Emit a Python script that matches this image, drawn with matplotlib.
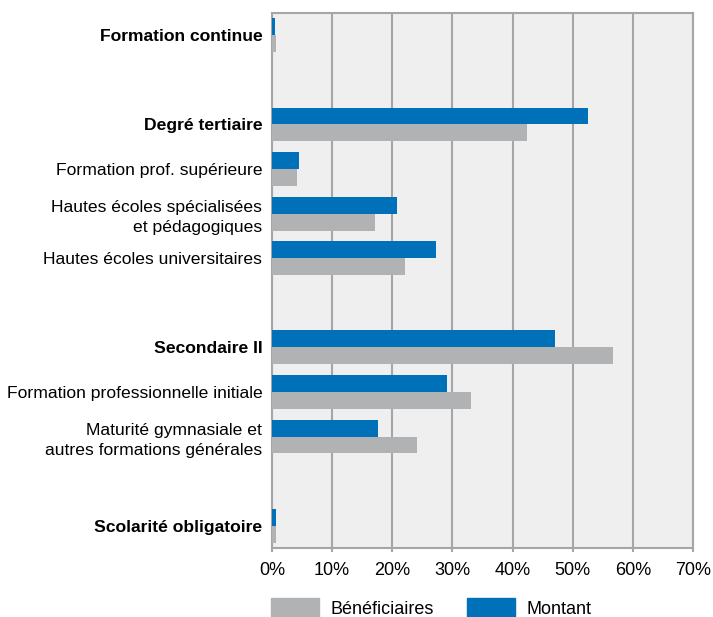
import matplotlib.pyplot as plt
import numpy as np
from matplotlib.patches import Rectangle

plt.rcParams['font.family'] = ['Liberation Sans', 'DejaVu Sans']

categories = ['Formation continue', 'Degré tertiaire', 'Formation prof. supérieure',
              'Hautes écoles spécialisées\net pédagogiques', 'Hautes écoles universitaires',
              'Secondaire II', 'Formation professionnelle initiale',
              'Maturité gymnasiale et\nautres formations générales', 'Scolarité obligatoire']
bold = [True, True, False, False, False, True, False, False, True]
slots = [0, 2, 3, 4, 5, 7, 8, 9, 11]
montant = [0.5, 52.6, 4.5, 20.8, 27.3, 47.1, 29.1, 17.6, 0.6]
beneficiaires = [0.7, 42.4, 4.2, 17.1, 22.1, 56.7, 33.1, 24.1, 0.6]
legend_labels = ['Bénéficiaires', 'Montant']

blue = '#0070b8'
grey = '#b1b2b4'
line = '#a6a6a6'
W, H = 713, 617

fig = plt.figure(figsize=(W / 100, H / 100), dpi=100)
ax = fig.add_axes([272 / W, 1 - 548 / H, 421 / W, 535 / H])
ax.set_facecolor('#efefef')

y = np.array(slots, dtype=float)
h = 0.38
ax.barh(y - h / 2, montant, height=h, color=blue, zorder=3)
ax.barh(y + h / 2, beneficiaires, height=h, color=grey, zorder=3)

ax.set_xlim(0, 70)
ax.set_ylim(11.5, -0.5)
ax.set_xticks(np.arange(0, 71, 10))
ax.set_xticklabels([f'{v}%' for v in range(0, 71, 10)], fontsize=13)
ax.set_yticks(y)
ax.set_yticklabels(categories, fontsize=12.6, linespacing=1.4)
for lab, b in zip(ax.get_yticklabels(), bold):
    if b:
        lab.set_fontweight('bold')
ax.tick_params(axis='x', length=3, width=1.5, color=line, pad=7)
ax.tick_params(axis='y', length=0, pad=7)
ax.grid(axis='x', color=line, linewidth=1.5, zorder=1)
for s in ax.spines.values():
    s.set_color(line)
    s.set_linewidth(1.5)

# legend drawn in figure pixel coordinates
for (x0, x1), col, lab, tx in zip([(271, 319), (467, 515)], [grey, blue], legend_labels, [330, 527]):
    fig.add_artist(Rectangle((x0 / W, 0), (x1 - x0) / W, (H - 598) / H,
                             transform=fig.transFigure, color=col))
    fig.text(tx / W, 1 - 614 / H, lab, fontsize=13, va='baseline', ha='left')

fig.savefig('out.png', dpi=100)
